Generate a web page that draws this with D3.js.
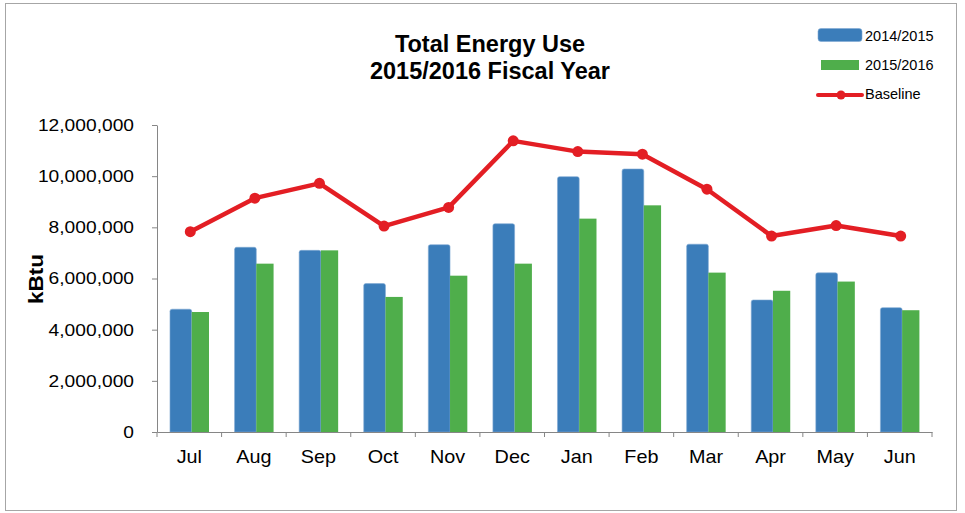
<!DOCTYPE html>
<html>
<head>
<meta charset="utf-8">
<script src="https://cdn.jsdelivr.net/npm/d3@7"></script>
<style>
  body { margin: 0; background: #fff; }
  text { font-family: "Liberation Sans", Arial, sans-serif; fill: #000; }
</style>
</head>
<body>
<div class="main-graph"></div>
<script>
// data
var months = ["Jul", "Aug", "Sep", "Oct", "Nov", "Dec", "Jan", "Feb", "Mar", "Apr", "May", "Jun"];
var use1415 = [4800000, 7220000, 7100000, 5800000, 7320000, 8140000, 9980000, 10280000, 7340000, 5160000, 6220000, 4860000];
var use1516 = [4690000, 6580000, 7100000, 5280000, 6110000, 6580000, 8340000, 8860000, 6230000, 5520000, 5880000, 4760000];
var baseline = [7830000, 9140000, 9720000, 8050000, 8780000, 11380000, 10960000, 10860000, 9490000, 7660000, 8070000, 7660000];
var yTicks = [0, 2000000, 4000000, 6000000, 8000000, 10000000, 12000000];

var W = 965, H = 513;
var margin = {top: 125, right: 33, bottom: 81, left: 157},
    width = W - margin.left - margin.right,
    height = H - margin.top - margin.bottom;

var blue = "#3b7dba", green = "#4fae4b", red = "#e31e24", axisCol = "#868686";
var sx = 1.13; // axis text in the reference is stretched sideways

var root = d3.select(".main-graph")
             .append("svg")
             .attr("width", W)
             .attr("height", H);

// outer border
root.append("rect")
    .attr("x", 5.5).attr("y", 3.5)
    .attr("width", 951).attr("height", 507)
    .attr("fill", "none")
    .attr("stroke", "#a6a6a6");

var svg = root.append("g")
              .attr("transform", "translate(" + margin.left + "," + margin.top + ")");

var x = d3.scaleBand().domain(months).range([0, width]);
var y = d3.scaleLinear().domain([0, 12000000]).range([height, 0]);
var bw = x.bandwidth();

// Y axis
var yAxis = svg.append("g")
    .call(d3.axisLeft(y).tickValues(yTicks).tickSize(5).tickSizeOuter(0).tickFormat(d3.format(",")));
yAxis.select(".domain").attr("stroke", axisCol);
yAxis.selectAll(".tick line").attr("stroke", axisCol);
yAxis.selectAll(".tick text")
     .attr("x", -23 / sx)
     .attr("transform", "scale(" + sx + ",1)")
     .style("font-size", "17px")
     .style("font-family", "Liberation Sans, Arial, sans-serif");

// bars
var bars = months.map(function(m, i) { return {m: m, a: use1415[i], b: use1516[i]}; });

svg.selectAll(".bar-a")
   .data(bars)
   .enter().append("path")
   .attr("class", "bar-a")
   .attr("fill", blue)
   .attr("stroke", "#7fa9d3")
   .attr("stroke-width", 0.6)
   .attr("d", function(d) {
       var x0 = x(d.m) + bw / 2 - 19.3, x1 = x0 + 21.7, y0 = y(d.a), r = 2;
       return "M" + x0 + "," + height + "V" + (y0 + r) + "Q" + x0 + "," + y0 + " " + (x0 + r) + "," + y0 +
              "H" + (x1 - r) + "Q" + x1 + "," + y0 + " " + x1 + "," + (y0 + r) + "V" + height + "Z";
   });

svg.selectAll(".bar-b")
   .data(bars)
   .enter().append("rect")
   .attr("class", "bar-b")
   .attr("fill", green)
   .attr("x", function(d) { return x(d.m) + bw / 2 + 2.4; })
   .attr("width", 17.3)
   .attr("y", function(d) { return y(d.b); })
   .attr("height", function(d) { return height - y(d.b); });

// X axis (ticks at band edges)
var xAxis = svg.append("g")
    .attr("transform", "translate(0," + height + ")")
    .call(d3.axisBottom(x).tickSize(0).tickSizeOuter(0));
xAxis.select(".domain").attr("stroke", axisCol);
xAxis.selectAll(".tick text")
     .attr("x", 0)
     .attr("y", 31)
     .attr("dy", 0)
     .attr("transform", "scale(1.1,1)")
     .style("font-size", "18px")
     .style("font-family", "Liberation Sans, Arial, sans-serif");
svg.append("g").selectAll("line")
   .data(months.concat(["end"]))
   .enter().append("line")
   .attr("x1", function(d, i) { return i * bw; })
   .attr("x2", function(d, i) { return i * bw; })
   .attr("y1", height).attr("y2", height + 5)
   .attr("stroke", axisCol);

// baseline
var line = d3.line()
             .x(function(d, i) { return x(months[i]) + bw / 2 + 1; })
             .y(function(d) { return y(d); });

svg.append("path")
   .attr("d", line(baseline))
   .attr("fill", "none")
   .attr("stroke", red)
   .attr("stroke-width", 4.5)
   .attr("stroke-linejoin", "round");

svg.selectAll(".dot")
   .data(baseline)
   .enter().append("circle")
   .attr("cx", function(d, i) { return x(months[i]) + bw / 2 + 1; })
   .attr("cy", function(d) { return y(d); })
   .attr("r", 5.5)
   .attr("fill", red);

// y label
root.append("text")
    .attr("text-anchor", "middle")
    .attr("transform", "translate(43,279) rotate(-90) scale(" + sx + ",1)")
    .style("font-size", "20px")
    .style("font-weight", "bold")
    .text("kBtu");

// title
var title = ["Total Energy Use", "2015/2016 Fiscal Year"];
root.selectAll(".title")
    .data(title)
    .enter().append("text")
    .attr("class", "title")
    .attr("text-anchor", "middle")
    .attr("x", 490)
    .attr("y", function(d, i) { return 52 + i * 27; })
    .style("font-size", "23.5px")
    .style("font-weight", "bold")
    .text(function(d) { return d; });

// legend
var lg = root.append("g");
lg.append("rect").attr("x", 818).attr("y", 28.5).attr("width", 44).attr("height", 13).attr("rx", 3)
  .attr("fill", blue).attr("stroke", "#7fa9d3").attr("stroke-width", 0.6);
lg.append("rect").attr("x", 821).attr("y", 60).attr("width", 38).attr("height", 10).attr("fill", green);
lg.append("line").attr("x1", 818).attr("x2", 862).attr("y1", 95).attr("y2", 95)
  .attr("stroke", red).attr("stroke-width", 4).attr("stroke-linecap", "round");
lg.append("circle").attr("cx", 841).attr("cy", 95).attr("r", 4.5).attr("fill", red);
var legendNames = ["2014/2015", "2015/2016", "Baseline"];
lg.selectAll(".lt")
  .data(legendNames)
  .enter().append("text")
  .attr("x", 865)
  .attr("y", function(d, i) { return 41 + i * 29; })
  .style("font-size", "14.5px")
  .text(function(d) { return d; });
</script>
</body>
</html>
